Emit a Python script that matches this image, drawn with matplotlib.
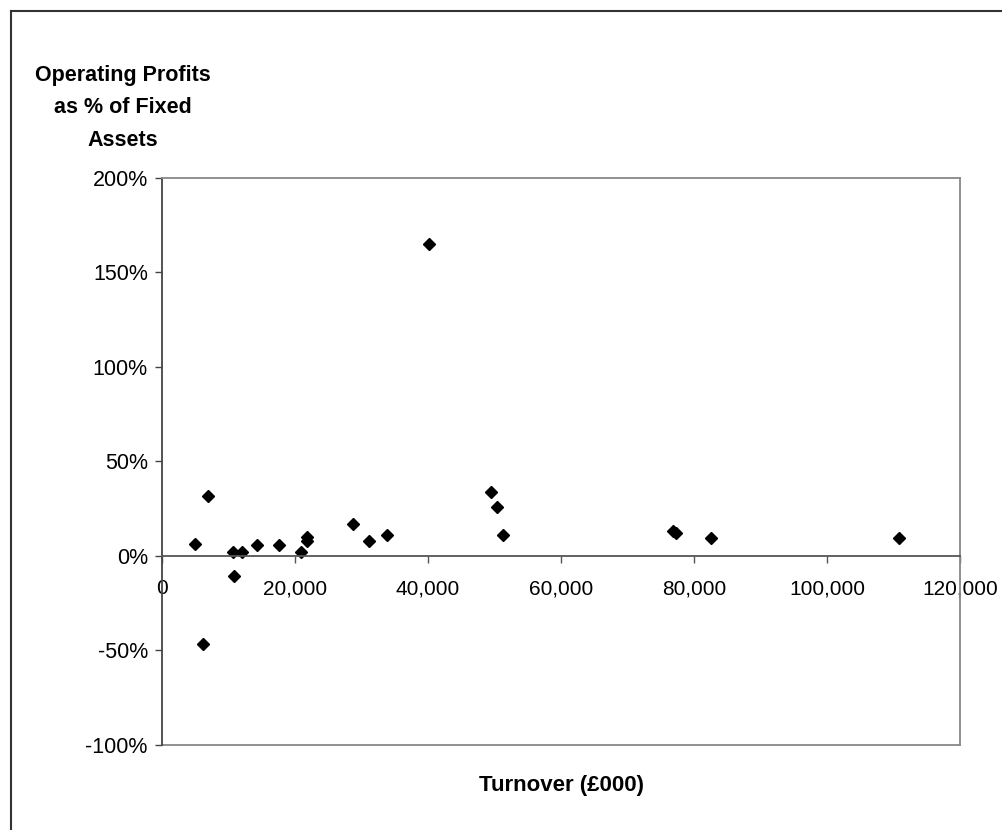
import matplotlib.pyplot as plt
from matplotlib.lines import Line2D
from matplotlib.ticker import FuncFormatter

plt.rcParams['font.family'] = ['Liberation Sans', 'DejaVu Sans']

# turnover (£000) and operating profit as % of fixed assets
turnover = [5000, 6900, 6200, 10700, 12000, 10800, 14300, 17700, 21000,
            21900, 21900, 28800, 31100, 33800, 40150, 49500, 50400, 51300,
            76800, 77300, 82600, 110900]
profit_pct = [6.2, 31.7, -46.7, 2.0, 2.0, -10.7, 5.4, 5.4, 2.0,
              10.0, 7.5, 16.8, 7.5, 10.7, 165.1, 33.8, 25.5, 10.7,
              12.8, 11.8, 9.4, 9.4]

x_ticks = [0, 20000, 40000, 60000, 80000, 100000, 120000]
y_ticks = [-100, -50, 0, 50, 100, 150, 200]

fig = plt.figure(figsize=(10.02, 8.30), dpi=100)
ax = fig.add_axes([0.1614, 0.103, 0.7966, 0.683])

ax.plot(turnover, profit_pct, 'D', color='black', markersize=6.5, clip_on=False)

ax.set_xlim(0, 120000)
ax.set_ylim(-100, 200)
ax.set_xticks(x_ticks)
ax.set_yticks(y_ticks)
ax.xaxis.set_major_formatter(FuncFormatter(lambda v, p: f'{v:,.0f}'))
ax.yaxis.set_major_formatter(FuncFormatter(lambda v, p: f'{v:.0f}%'))

# x axis sits on the 0% line, plot area border stays grey
ax.spines['bottom'].set_position(('data', 0))
ax.spines['bottom'].set_color('#555555')
ax.spines['left'].set_color('#444444')
ax.spines['top'].set_color('#888888')
ax.spines['right'].set_color('#888888')
for s in ax.spines.values():
    s.set_linewidth(1.3)
ax.axhline(-100, color='#888888', lw=1.3, clip_on=False)

ax.tick_params(axis='x', direction='out', length=5, width=1, color='#555555',
               labelsize=15, pad=12)
ax.tick_params(axis='y', direction='out', length=5, width=1, color='#444444',
               labelsize=15.5, pad=5)

fig.text(0.1225, 0.87, 'Operating Profits\nas % of Fixed\nAssets', ha='center',
         va='center', fontsize=15.5, fontweight='bold', linespacing=1.7)
fig.text(0.56, 0.054, 'Turnover (£000)', ha='center', va='center',
         fontsize=16, fontweight='bold')

# outer chart frame (left and top edges visible)
fig.add_artist(Line2D([0.0105, 0.0105], [0, 0.987], transform=fig.transFigure,
                      color='#333333', lw=1.5))
fig.add_artist(Line2D([0.0105, 1.0], [0.987, 0.987], transform=fig.transFigure,
                      color='#333333', lw=1.5))

fig.savefig('out.png', dpi=100)
